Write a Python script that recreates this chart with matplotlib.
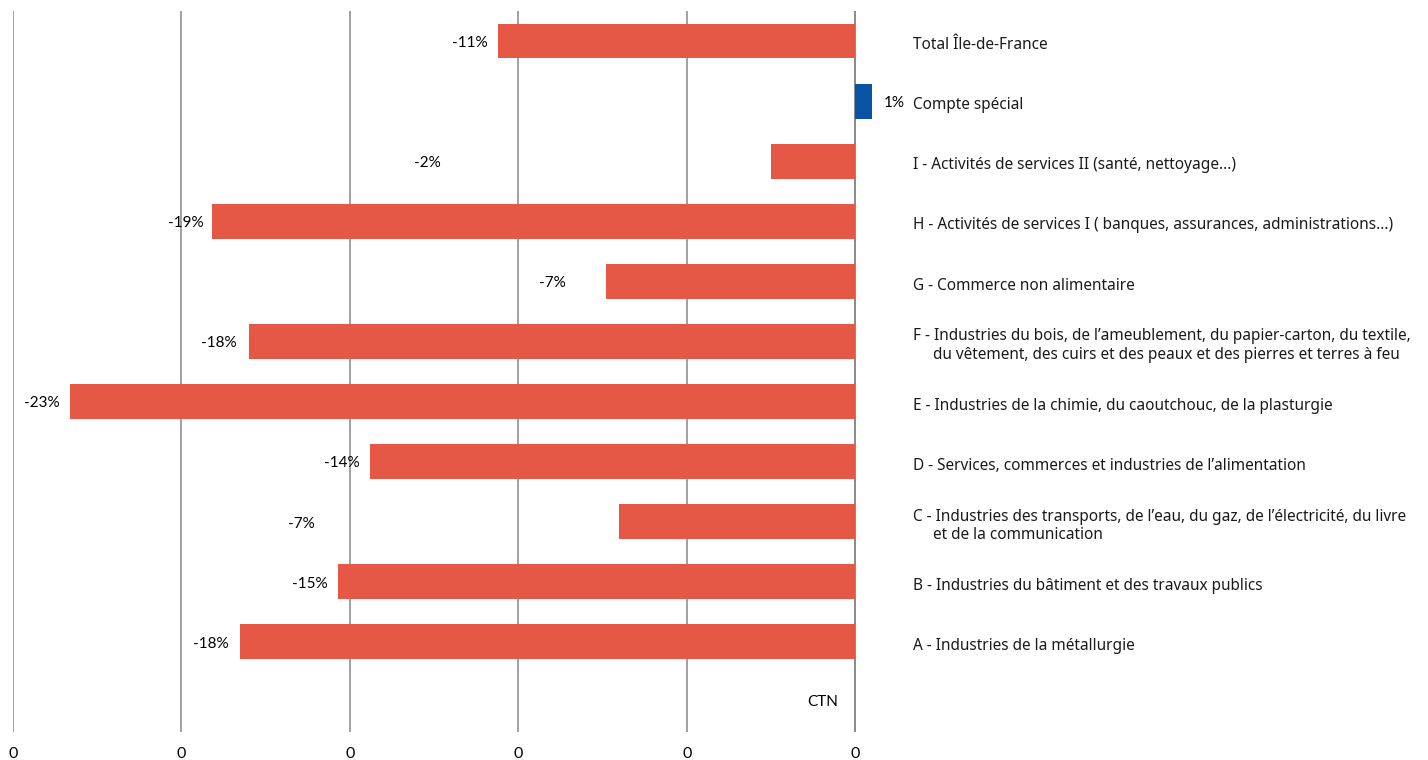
# -*- coding: utf-8 -*-
# Evolution par CTN - barres horizontales

import matplotlib.pyplot as plt

# %% Donnees (de haut en bas)

categories = ["Total Île-de-France",
              "Compte spécial",
              "I - Activités de services II (santé, nettoyage...)",
              "H - Activités de services I ( banques, assurances, administrations...)",
              "G - Commerce non alimentaire",
              "F - Industries du bois, de l’ameublement, du papier-carton, du textile,\n"
              "     du vêtement, des cuirs et des peaux et des pierres et terres à feu",
              "E - Industries de la chimie, du caoutchouc, de la plasturgie",
              "D - Services, commerces et industries de l’alimentation",
              "C - Industries des transports, de l’eau, du gaz, de l’électricité, du livre\n"
              "     et de la communication",
              "B - Industries du bâtiment et des travaux publics",
              "A - Industries de la métallurgie"]
valeurs = [-10.6, 0.5, -2.5, -19.1, -7.4, -18.0, -23.3, -14.4, -7.0, -15.35, -18.25]
etiquettes = ["-11%", "1%", "-2%", "-19%", "-7%", "-18%", "-23%", "-14%", "-7%", "-15%", "-18%"]
pos_etiquettes = [-10.9, 0.85, -12.3, -19.35, -8.6, -18.35, -23.6, -14.7, -16.05, -15.65, -18.6]
x_ticks = [-25, -20, -15, -10, -5, 0]
x_ticklabels = ["0", "0", "0", "0", "0", "0"]
titre_serie = "CTN"

# %% Grafico

rouge = '#E45845'
bleu = '#0A52A4'

fig = plt.figure(figsize=(14.28, 7.6), dpi=100)
ax = fig.add_axes([12.7/1428, 28/760, (874-12.7)/1428, 721/760])

n = len(categories)
ys = [n - i for i in range(n)]  # rangee 0 reservee a CTN
couleurs = [bleu if v > 0 else rouge for v in valeurs]
ax.barh(ys, valeurs, height=0.58, color=couleurs, zorder=2)

for y, xp, lab in zip(ys, pos_etiquettes, etiquettes):
    ha = 'left' if xp > 0 else 'right'
    ax.text(xp, y - 0.03, lab, ha=ha, va='center', fontsize=11, family='Lato', zorder=3)

for y, cat in zip(ys, categories):
    ax.text(1.7, y - 0.07, cat, ha='left', va='center', fontsize=11.05, family='Noto Sans',
            clip_on=False, linespacing=1.2, color='#1a1a1a')

ax.text(-0.5, 0, titre_serie, ha='right', va='center', fontsize=11, family='Lato')

ax.set_xlim(-25, 0.55)
ax.set_ylim(-0.5, n + 0.5)
ax.set_xticks(x_ticks)
ax.set_xticklabels(x_ticklabels, family='Lato', fontsize=11.5)
ax.tick_params(axis='x', length=0, pad=11)
ax.set_yticks([])
for s in ax.spines.values():
    s.set_visible(False)
for xt in x_ticks:
    ax.axvline(xt, color='#999999' if xt != 0 else '#808080', lw=1.3, zorder=1)

plt.savefig('out.png', dpi=100)
